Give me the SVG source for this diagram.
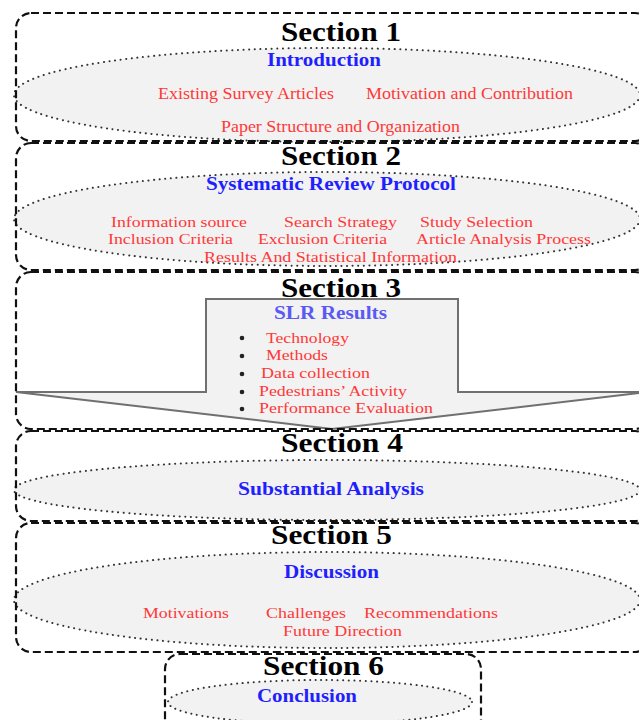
<svg xmlns="http://www.w3.org/2000/svg" width="639" height="720" viewBox="0 0 639 720">
  <style>
    .box { fill: none; stroke: #111; stroke-width: 2.2; stroke-dasharray: 8 4; }
    .oval { fill: #f2f2f2; stroke: #333; stroke-width: 2; stroke-dasharray: 0.1 5.5; stroke-linecap: round; }
    .arrow { fill: #f2f2f2; stroke: #707070; stroke-width: 2; stroke-linejoin: miter; }
    .sec { font-family: "Liberation Serif", "Times New Roman", serif; font-weight: bold; font-size: 28px; fill: #000; }
    .title { font-family: "Liberation Serif", "Times New Roman", serif; font-weight: bold; font-size: 18px; fill: #1f1fff; }
    .item { font-family: "Liberation Serif", "Times New Roman", serif; font-size: 16px; fill: #ff3838; }
    .li { font-size: 15px; }
    .dot { fill: #222; }
  </style>
  <rect width="639" height="720" fill="#fff"/>

  <g id="section-1">
    <ellipse class="oval" cx="327" cy="95" rx="313" ry="47"/>
    <text class="sec" x="281" y="41" textLength="120" lengthAdjust="spacingAndGlyphs">Section 1</text>
    <text class="title" x="267" y="66" textLength="114" lengthAdjust="spacingAndGlyphs">Introduction</text>
    <text class="item" x="158" y="99" textLength="176" lengthAdjust="spacingAndGlyphs">Existing Survey Articles</text>
    <text class="item" x="366" y="99" textLength="207" lengthAdjust="spacingAndGlyphs">Motivation and Contribution</text>
    <text class="item" x="221" y="132" textLength="239" lengthAdjust="spacingAndGlyphs">Paper Structure and Organization</text>
  </g>

  <g id="section-2">
    <ellipse class="oval" cx="327" cy="219" rx="313" ry="47"/>
    <text class="sec" x="281" y="165" textLength="120" lengthAdjust="spacingAndGlyphs">Section 2</text>
    <text class="title" x="206" y="190" textLength="250" lengthAdjust="spacingAndGlyphs">Systematic Review Protocol</text>
    <text class="item li" x="111" y="227" textLength="136" lengthAdjust="spacingAndGlyphs">Information source</text>
    <text class="item li" x="284" y="227" textLength="113" lengthAdjust="spacingAndGlyphs">Search Strategy</text>
    <text class="item li" x="420" y="227" textLength="113" lengthAdjust="spacingAndGlyphs">Study Selection</text>
    <text class="item li" x="108" y="244" textLength="125" lengthAdjust="spacingAndGlyphs">Inclusion Criteria</text>
    <text class="item li" x="258" y="244" textLength="129" lengthAdjust="spacingAndGlyphs">Exclusion Criteria</text>
    <text class="item li" x="416" y="244" textLength="175" lengthAdjust="spacingAndGlyphs">Article Analysis Process</text>
    <text class="item li" x="204" y="262" textLength="253" lengthAdjust="spacingAndGlyphs">Results And Statistical Information</text>
  </g>

  <g id="section-3">
    <polygon class="arrow" points="206,299 458,299 458,392 648,392 332,429 16,392 206,392"/>
    <text class="sec" x="281" y="297" textLength="120" lengthAdjust="spacingAndGlyphs">Section 3</text>
    <text class="title" x="274" y="319" textLength="113" lengthAdjust="spacingAndGlyphs" style="fill:#5a5af2">SLR Results</text>
    <circle class="dot" cx="242" cy="338" r="2.3"/>
    <circle class="dot" cx="242" cy="356" r="2.3"/>
    <circle class="dot" cx="242" cy="374" r="2.3"/>
    <circle class="dot" cx="242" cy="392" r="2.3"/>
    <circle class="dot" cx="242" cy="409" r="2.3"/>
    <text class="item li" x="266" y="343" textLength="83" lengthAdjust="spacingAndGlyphs">Technology</text>
    <text class="item li" x="266" y="360" textLength="62" lengthAdjust="spacingAndGlyphs">Methods</text>
    <text class="item li" x="261" y="378" textLength="109" lengthAdjust="spacingAndGlyphs">Data collection</text>
    <text class="item li" x="259" y="396" textLength="148" lengthAdjust="spacingAndGlyphs">Pedestrians’ Activity</text>
    <text class="item li" x="259" y="413" textLength="174" lengthAdjust="spacingAndGlyphs">Performance Evaluation</text>
  </g>

  <g id="section-4">
    <ellipse class="oval" cx="327" cy="490" rx="313" ry="30"/>
    <text class="sec" x="281" y="452" textLength="122" lengthAdjust="spacingAndGlyphs">Section 4</text>
    <text class="title" x="238" y="495" textLength="186" lengthAdjust="spacingAndGlyphs">Substantial Analysis</text>
  </g>

  <g id="section-5">
    <ellipse class="oval" cx="327" cy="600" rx="313" ry="48"/>
    <text class="sec" x="271" y="544" textLength="121" lengthAdjust="spacingAndGlyphs">Section 5</text>
    <text class="title" x="284" y="578" textLength="95" lengthAdjust="spacingAndGlyphs">Discussion</text>
    <text class="item li" x="143" y="618" textLength="86" lengthAdjust="spacingAndGlyphs">Motivations</text>
    <text class="item li" x="266" y="618" textLength="80" lengthAdjust="spacingAndGlyphs">Challenges</text>
    <text class="item li" x="364" y="618" textLength="134" lengthAdjust="spacingAndGlyphs">Recommendations</text>
    <text class="item li" x="283" y="636" textLength="119" lengthAdjust="spacingAndGlyphs">Future Direction</text>
  </g>

  <g id="section-6">
    <ellipse class="oval" cx="320" cy="702" rx="152" ry="22"/>
    <text class="sec" x="263" y="675" textLength="121" lengthAdjust="spacingAndGlyphs">Section 6</text>
    <text class="title" x="257" y="702" textLength="100" lengthAdjust="spacingAndGlyphs">Conclusion</text>
  </g>

  <!-- dashed section frames, drawn over the contents -->
  <g id="frames">
    <rect class="box" x="16" y="13" width="634" height="128" rx="15"/>
    <rect class="box" x="16" y="143" width="634" height="127" rx="15"/>
    <rect class="box" x="16" y="272" width="634" height="157" rx="15"/>
    <rect class="box" x="16" y="431" width="634" height="90" rx="15"/>
    <rect class="box" x="16" y="523" width="634" height="129" rx="15"/>
    <rect class="box" x="165" y="654" width="316" height="100" rx="15"/>
  </g>
</svg>
